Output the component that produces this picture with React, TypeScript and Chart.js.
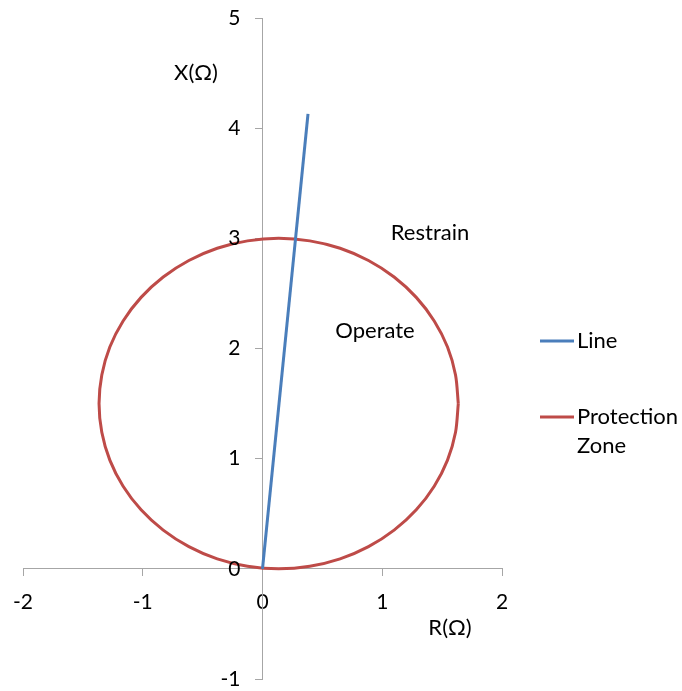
import React, { useEffect, useRef } from "react";
import { Chart, registerables } from "chart.js";

Chart.register(...registerables);

const lineR = [0, 0.38];
const lineX = [0, 4.13];

const zoneR = [
  1.635, 1.612, 1.545, 1.434, 1.284, 1.099, 0.885, 0.648, 0.395, 0.135,
  -0.125, -0.378, -0.615, -0.829, -1.014, -1.164, -1.275, -1.342, -1.365,
  -1.342, -1.275, -1.164, -1.014, -0.829, -0.615, -0.378, -0.125, 0.135,
  0.395, 0.648, 0.885, 1.099, 1.284, 1.434, 1.545, 1.612, 1.635,
];
const zoneX = [
  1.5, 1.76, 2.013, 2.25, 2.464, 2.649, 2.799, 2.91, 2.977, 3.0,
  2.977, 2.91, 2.799, 2.649, 2.464, 2.25, 2.013, 1.76, 1.5,
  1.24, 0.987, 0.75, 0.536, 0.351, 0.201, 0.09, 0.023, 0.0,
  0.023, 0.09, 0.201, 0.351, 0.536, 0.75, 0.987, 1.24, 1.5,
];

const yTickValues = [-1, 0, 1, 2, 3, 4, 5];

const seriesNames = ["Line", "Protection Zone"];
const seriesColors = ["#4a7ebb", "#be4b48"];
const FONT = "Lato, 'Open Sans', sans-serif";

const zeroPad = (scale: any) => {
  scale.paddingTop = 0;
  scale.paddingBottom = 0;
  scale.paddingLeft = 0;
  scale.paddingRight = 0;
};

const textPlugin = {
  id: "texts",
  afterDraw(chart: any) {
    const ctx = chart.ctx;
    const xs = chart.scales.x;
    const ys = chart.scales.y;
    ctx.save();
    ctx.fillStyle = "#000";
    // y tick labels (left of the vertical axis)
    ctx.font = `21px ${FONT}`;
    ctx.textBaseline = "middle";
    ctx.textAlign = "right";
    const axisX = xs.getPixelForValue(0);
    yTickValues.forEach((v) => {
      ctx.fillText(String(v), axisX - 22, ys.getPixelForValue(v));
    });
    ctx.font = `22px ${FONT}`;
    ctx.textAlign = "center";
    ctx.fillText("X(Ω)", 196, 73);
    ctx.fillText("R(Ω)", 450, 628);
    ctx.fillText("Restrain", 430, 233);
    ctx.fillText("Operate", 375, 331);
    // legend
    ctx.textAlign = "left";
    const items = [
      { y: 341, lines: ["Line"] },
      { y: 417, lines: ["Protection", "Zone"] },
    ];
    items.forEach((it, i) => {
      ctx.strokeStyle = seriesColors[i];
      ctx.lineWidth = 3;
      ctx.beginPath();
      ctx.moveTo(540, it.y);
      ctx.lineTo(574, it.y);
      ctx.stroke();
      it.lines.forEach((t, j) => ctx.fillText(t, 577, it.y + j * 29));
    });
    ctx.restore();
  },
};

export default function App() {
  const ref = useRef<HTMLCanvasElement>(null);
  useEffect(() => {
    if (!ref.current) return;
    const chart = new Chart(ref.current, {
      type: "scatter",
      data: {
        datasets: [
          {
            label: seriesNames[0],
            data: lineR.map((r, i) => ({ x: r, y: lineX[i] })),
            borderColor: seriesColors[0],
            backgroundColor: seriesColors[0],
            showLine: true,
            borderWidth: 3,
            pointRadius: 0,
          },
          {
            label: seriesNames[1],
            data: zoneR.map((r, i) => ({ x: r, y: zoneX[i] })),
            borderColor: seriesColors[1],
            backgroundColor: seriesColors[1],
            showLine: true,
            borderWidth: 3,
            pointRadius: 0,
            tension: 0.3,
          },
        ],
      },
      options: {
        responsive: false,
        animation: false,
        devicePixelRatio: 1,
        layout: { padding: { left: 23, top: 18, right: 180, bottom: 12 } },
        plugins: { legend: { display: false }, tooltip: { enabled: false } },
        scales: {
          x: {
            type: "linear",
            min: -2,
            max: 2,
            position: { y: 0 } as any,
            afterFit: zeroPad,
            ticks: { stepSize: 1, color: "#000", font: { family: FONT, size: 21 }, padding: 14 },
            grid: { drawOnChartArea: false, drawTicks: true, tickLength: 7, color: "#a6a6a6" },
            border: { color: "#a6a6a6", width: 1 },
          },
          y: {
            type: "linear",
            min: -1,
            max: 5,
            position: { x: 0 } as any,
            afterFit: zeroPad,
            ticks: { stepSize: 1, display: false },
            grid: { drawOnChartArea: false, drawTicks: true, tickLength: 7, color: "#a6a6a6" },
            border: { color: "#a6a6a6", width: 1 },
          },
        },
      },
      plugins: [textPlugin],
    });
    return () => chart.destroy();
  }, []);
  return (
    <canvas
      ref={ref}
      width={682}
      height={691}
      style={{ position: "absolute", left: 0, top: 0, display: "block" }}
    />
  );
}
